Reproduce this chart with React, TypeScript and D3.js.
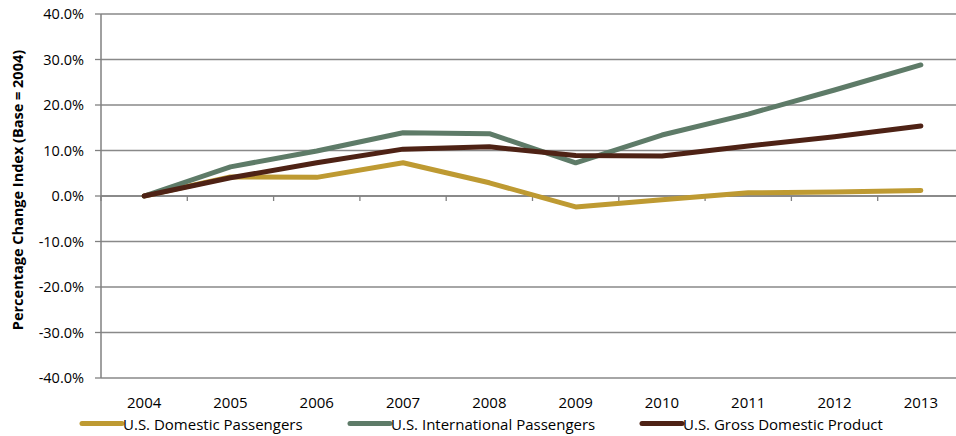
import React from "react";
import * as d3 from "d3";

const years = ["2004", "2005", "2006", "2007", "2008", "2009", "2010", "2011", "2012", "2013"];
const domestic = [0, 4.2, 4.1, 7.3, 2.9, -2.4, -0.8, 0.7, 0.9, 1.2];
const international = [0, 6.4, 9.9, 13.9, 13.7, 7.3, 13.4, 18.0, 23.3, 28.8];
const gdp = [0, 4.0, 7.3, 10.3, 10.8, 8.9, 8.8, 11.0, 13.0, 15.4];
const yTicks = [-40, -30, -20, -10, 0, 10, 20, 30, 40];

const seriesNames = ["U.S. Domestic Passengers", "U.S. International Passengers", "U.S. Gross Domestic Product"];
const seriesColors = ["#BE9A32", "#5E7B68", "#4E2215"];
const seriesValues = [domestic, international, gdp];
const legendX = [82, 350, 642];

const W = 956;
const H = 436;
const FONT = "'Open Sans', 'DejaVu Sans', sans-serif";

const fmt = (t: number) => t.toFixed(1) + "%";

export default function App() {
  const x = d3.scaleBand<string>().domain(years).range([101, 964]);
  const y = d3.scaleLinear().domain([-40, 40]).range([378, 14]);
  const cx = (d: string) => (x(d) as number) + x.bandwidth() / 2;
  const line = d3
    .line<number>()
    .x((_, i) => cx(years[i]))
    .y((v) => y(v));
  const bounds = years
    .map((yr) => x(yr) as number)
    .concat([(x(years[years.length - 1]) as number) + x.bandwidth()]);

  return (
    <svg
      width={W}
      height={H}
      style={{ position: "absolute", left: 0, top: 0, background: "#fff" }}
      fontFamily={FONT}
    >
      <rect x={0} y={0} width={W} height={H} fill="#fff" />
      {yTicks.map((t) => (
        <g key={t}>
          <line x1={101} x2={964} y1={y(t)} y2={y(t)} stroke="#898989" strokeWidth={1.3} />
          <line x1={95} x2={101} y1={y(t)} y2={y(t)} stroke="#808080" strokeWidth={1.3} />
          <text x={84} y={y(t)} dy="0.36em" textAnchor="end" fontSize={14.5} fill="#000">
            {fmt(t)}
          </text>
        </g>
      ))}
      <line x1={101} x2={101} y1={y(40)} y2={y(-40)} stroke="#808080" strokeWidth={1.5} />
      <line x1={101} x2={964} y1={y(0)} y2={y(0)} stroke="#808080" strokeWidth={1.5} />
      {bounds.map((b, i) => (
        <line key={i} x1={b} x2={b} y1={y(0)} y2={y(0) + 5} stroke="#808080" strokeWidth={1.3} />
      ))}
      {years.map((yr) => (
        <text key={yr} x={cx(yr)} y={408} textAnchor="middle" fontSize={15} fill="#000">
          {yr}
        </text>
      ))}
      <text
        transform={`translate(23,${(y(40) + y(-40)) / 2 - 6}) rotate(-90)`}
        textAnchor="middle"
        fontSize={14.5}
        fontWeight="bold"
        fill="#000"
      >
        Percentage Change Index (Base = 2004)
      </text>
      {seriesValues.map((vals, i) => (
        <path
          key={seriesNames[i]}
          d={line(vals) as string}
          fill="none"
          stroke={seriesColors[i]}
          strokeWidth={5}
          strokeLinejoin="round"
          strokeLinecap="round"
        />
      ))}
      {seriesNames.map((name, i) => (
        <g key={name}>
          <line
            x1={legendX[i]}
            x2={legendX[i] + 40}
            y1={423.5}
            y2={423.5}
            stroke={seriesColors[i]}
            strokeWidth={5}
            strokeLinecap="round"
          />
          <text x={legendX[i] + 41} y={429.5} fontSize={15} fill="#000">
            {name}
          </text>
        </g>
      ))}
    </svg>
  );
}
